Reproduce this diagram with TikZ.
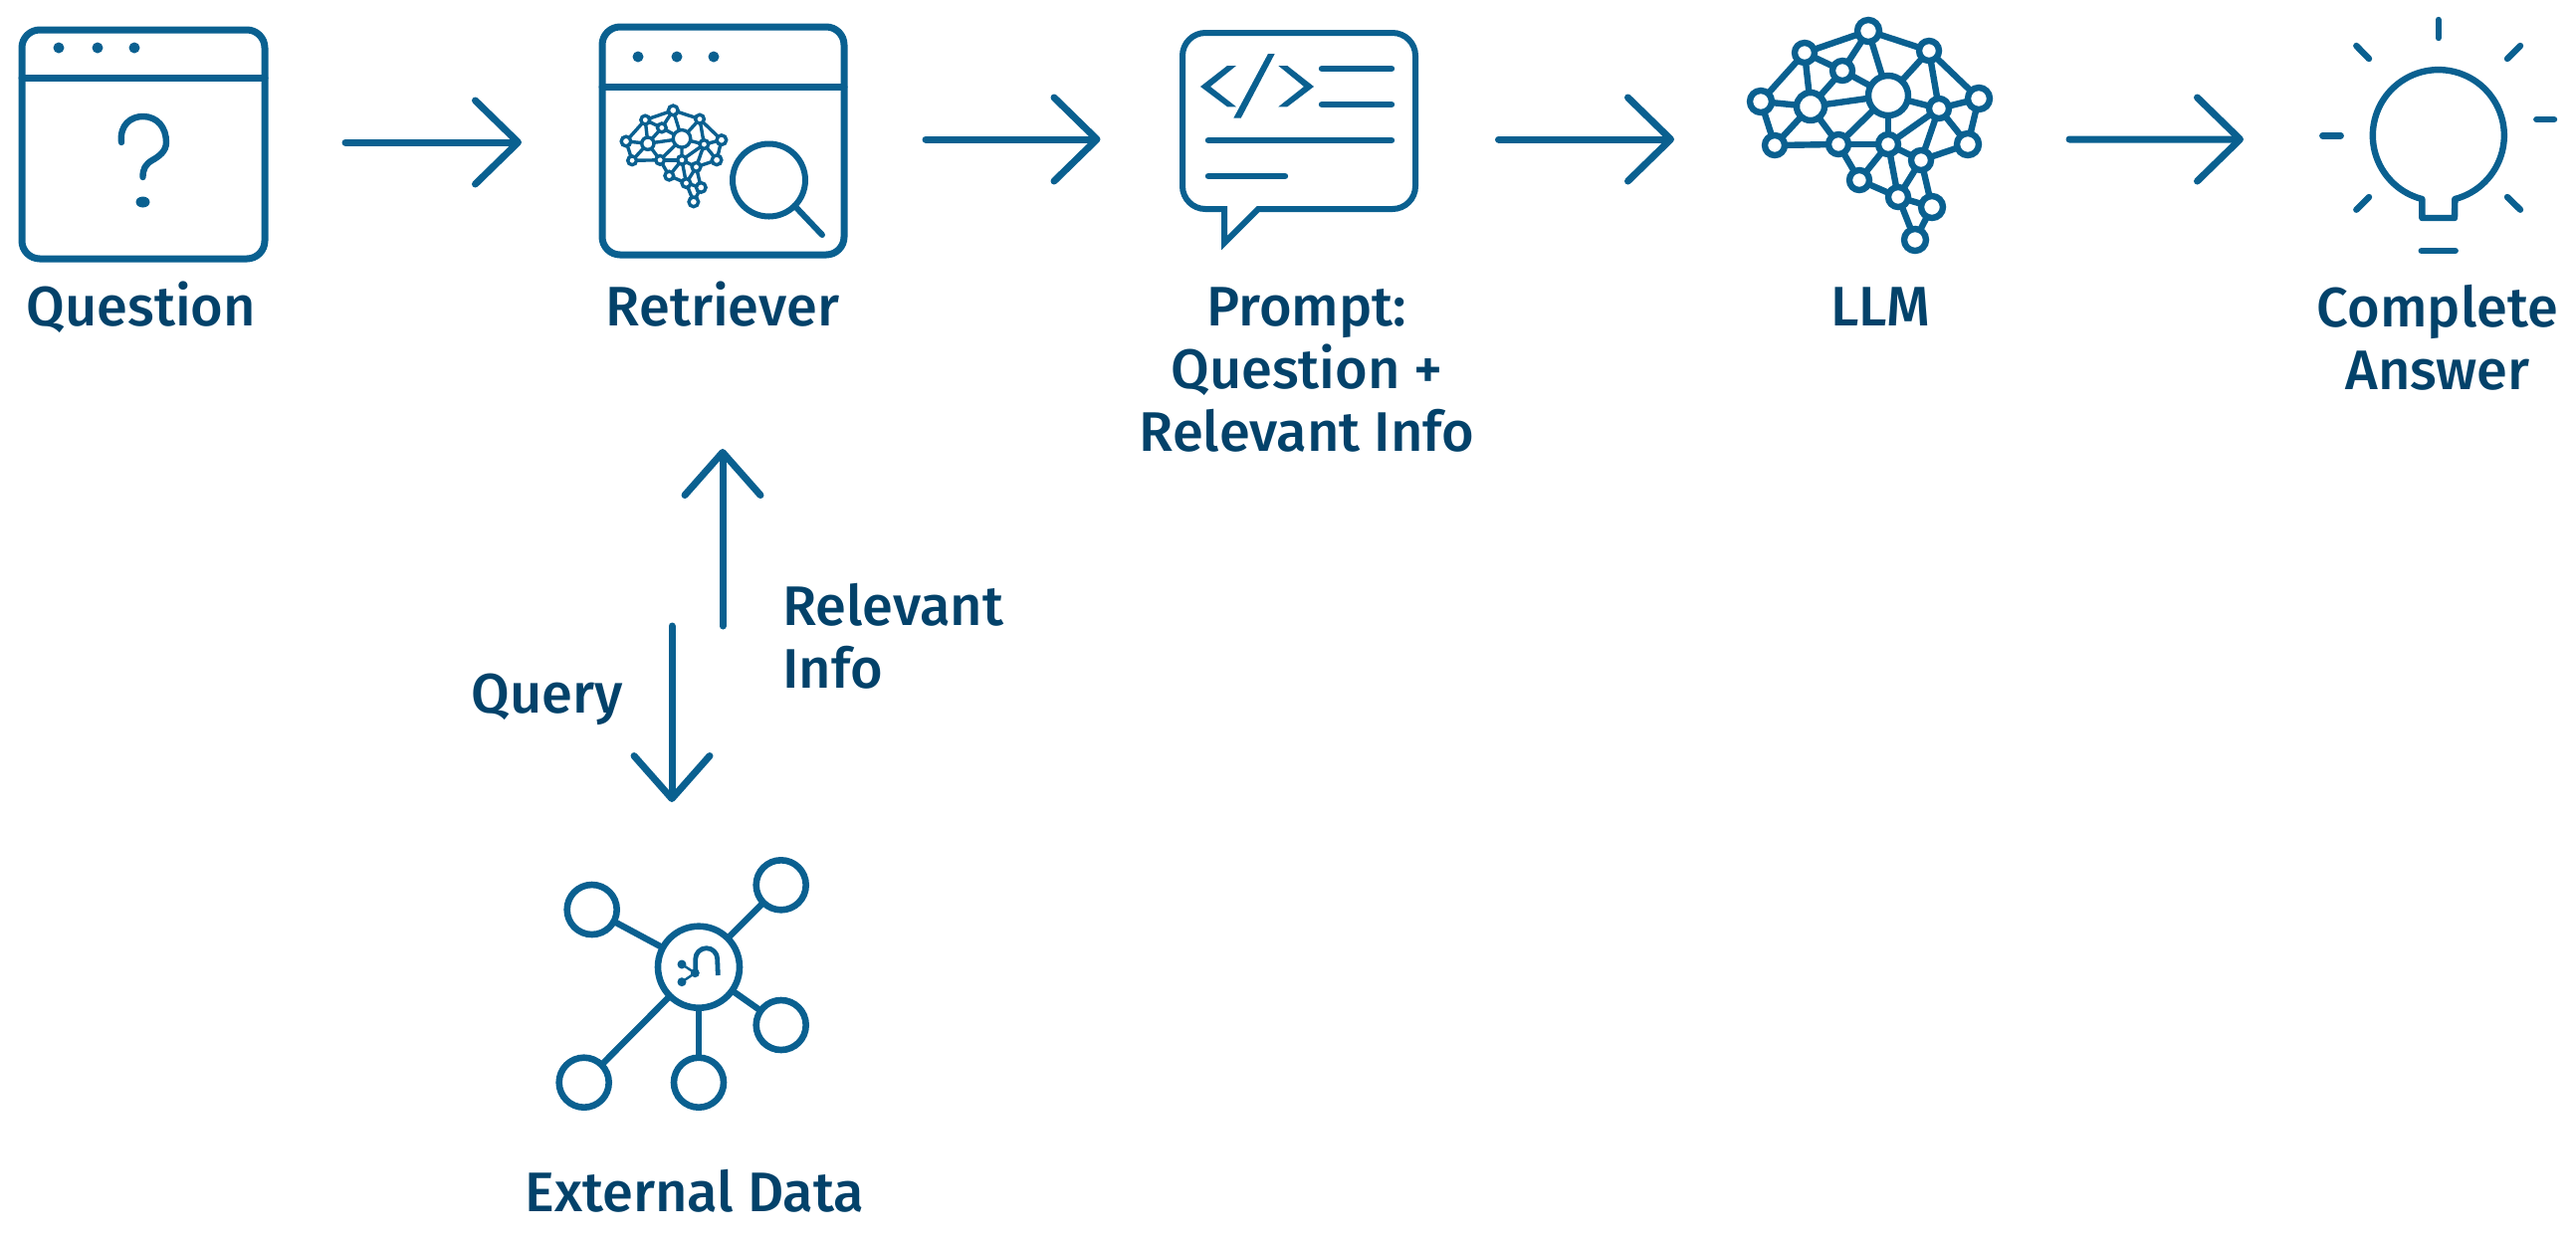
\documentclass[tikz,border=0pt]{standalone}
\usepackage{fontspec}
\setmainfont{Fira Sans}[UprightFont=* Medium]
\usepackage{xcolor}
\usetikzlibrary{positioning, arrows.meta}
\definecolor{iconblue}{HTML}{0A6090}
\definecolor{labelnavy}{HTML}{03426A}

% one brain: prefix, x, y, scale, line width
\newcommand{\brainnet}[5]{
  \begin{scope}[shift={(#2,#3)}, scale=#4]
    \foreach \n/\px/\py/\dia in {a/49/102/22, b/63/146/20, c/93/53/20, d/131/71/20, e/99/107/28,
        f/157/31/22, g/177/96/40, h/218/51/20, i/228/109/20, j/268/99/22, k/257/145/22,
        l/127/145/20, m/177/145/20, n/210/161/20, o/148/181/20, p/187/198/20, q/221/208/22, r/204/241/22}
      \node[netnode, line width=#5, minimum size={\dia*#4*0.5pt}] (#1\n) at (\px,\py) {};
    \foreach \s/\t in {a/c, a/e, a/b, b/e, b/l, c/f, c/d, c/e, d/f, d/e, d/g, e/g, e/l, f/g, f/h,
        g/h, g/i, g/l, g/m, h/i, h/j, i/j, i/k, j/k, i/m, i/n, k/n, l/m, l/o, m/o, m/p, m/n,
        n/p, n/q, o/p, p/q, p/r, q/r}
      \draw[iconblue, line width=#5] (#1\s) -- (#1\t);
  \end{scope}
}

\begin{document}
\begin{tikzpicture}[
    x=0.5pt, y=-0.5pt,
    icon/.style={iconblue, line width=3.2pt, line cap=round, line join=round},
    window/.style={draw=iconblue, line width=3.5pt, rounded corners=9pt, inner sep=0pt},
    frame/.style={inner sep=0pt, outer sep=0pt},
    netnode/.style={circle, draw=iconblue, inner sep=0pt, outer sep=0pt},
    hubnode/.style={circle, draw=iconblue, line width=3.3pt, inner sep=0pt, outer sep=0pt, minimum size=25pt},
    lbl/.style={font=\fontsize{28}{31.5}\selectfont, text=labelnavy, inner sep=0pt, align=center},
    arr/.style={iconblue, line width=3.5pt, line cap=round, -{Straight Barb[length=21.5pt, width=42pt, round]}},
    vertarr/.style={iconblue, line width=3.5pt, line cap=round, -{Straight Barb[length=21.5pt, width=38pt, round]}}
  ]
  \useasboundingbox (0,0) rectangle (2588,1250);

  \node[window, minimum width=122pt, minimum height=115pt] (question) at (144,145) {};
  \draw[icon, line width=3.5pt] (22,78) -- (266,78);
  \foreach \x in {59,98,135} \fill[iconblue] (\x,48) circle[radius=5.5];
  \draw[icon] (122,143) .. controls (120,125) and (132,117) .. (143.5,117)
    .. controls (158,117) and (167,128) .. (167,143)
    .. controls (167,152) and (160,157) .. (153,161)
    .. controls (146,165) and (143.5,170) .. (143.5,178);
  \fill[iconblue] (143.5,203) ellipse[x radius=7, y radius=5.5];
  \node[lbl, anchor=base] (questionlbl) at (142,327) {Question};

  \node[window, minimum width=121.5pt, minimum height=114.5pt] (retriever) at (726.5,141.5) {};
  \draw[icon, line width=3.5pt] (605,87) -- (848,87);
  \foreach \x in {641,680,717} \fill[iconblue] (\x,57) circle[radius=5.5];
  \brainnet{small}{607.5}{97.3}{0.438}{1.7pt}
  \node[circle, draw=iconblue, line width=3pt, inner sep=0pt, outer sep=0pt, minimum size=36.5pt] (lens) at (772.5,181) {};
  \coordinate (lensend) at (826,236);
  \draw[icon, line width=3pt] (lens.-45) -- (lensend);
  \node[lbl, anchor=base] (retrieverlbl) at (726,327) {Retriever};

  \node[frame, minimum width=120pt, minimum height=91.5pt] (prompt) at (1305,121.5) {};
  \draw[icon, line width=3pt, line cap=butt, line join=miter] (1230,244) -- (1230,210) [rounded corners=11.5pt] -- (1188,210) -- (1188,33)
    -- (1422,33) -- (1422,210) [sharp corners] -- (1264,210) -- cycle;
  \fill[iconblue] (1233,66) -- (1242,66) -- (1216,87) -- (1242,107.3) -- (1233,107.3) -- (1206,87) -- cycle;
  \fill[iconblue] (1274,54) -- (1280.7,54) -- (1246.7,118.7) -- (1239.3,118.7) -- cycle;
  \fill[iconblue] (1284.3,66) -- (1293.3,66) -- (1320,87) -- (1293.3,107.3) -- (1284.3,107.3) -- (1310,87) -- cycle;
  \draw[icon] (1328,69) -- (1398,69);
  \draw[icon] (1328,105) -- (1398,105);
  \draw[icon] (1214,141) -- (1398,141);
  \draw[icon] (1214,177) -- (1291,177);
  \node[lbl, anchor=north] (promptlbl) at (1313,288) {Prompt:\\Question +\\Relevant Info};

  \brainnet{llm}{1720}{0}{1}{3.2pt}
  \node[lbl, anchor=base] (llmlbl) at (1889,327) {LLM};

  \node[circle, frame, minimum size=69pt] (bulb) at (2449.7,136.7) {};
  \draw[icon] (2466,219) -- (2433.3,219) -- (2433.3,200) arc[start angle=104.5, end angle=435.5, radius=66] -- cycle;
  \foreach \ax/\ay/\bx/\by in {2449.7/20/2449.7/38, 2367.3/46/2380/59, 2532/46/2519/59, 2548.3/120/2566/120,
      2333.3/136.3/2351.7/136.3, 2380/198/2367.3/210.7, 2519/198/2532/210.7, 2432.7/252/2466.7/252}
    \draw[icon] (\ax,\ay) -- (\bx,\by);
  \node[lbl, anchor=north] (answerlbl) at (2449,286) {Complete\\Answer};

  \node[hubnode, minimum size=41pt] (hub) at (702,971.7) {};
  \node[hubnode] (sourcea) at (594.7,914) {};
  \node[hubnode] (sourceb) at (784.7,889.3) {};
  \node[hubnode] (sourcec) at (784.7,1030) {};
  \node[hubnode] (sourced) at (586.7,1087.7) {};
  \node[hubnode] (sourcee) at (702,1087.7) {};
  \foreach \s in {a,b,c,d,e} \draw[icon, line cap=butt] (hub) -- (source\s);
  \draw[icon, line width=2.4pt, line cap=butt] (698.7,975) -- (698.7,963.7) arc[start angle=180, end angle=360, radius=11] -- (721.3,980);
  \foreach \dx/\dy in {685/969, 685/986.7} {
    \fill[iconblue] (\dx,\dy) circle[radius=4.5];
    \draw[iconblue, line width=1.2pt] (\dx,\dy) -- (698.3,977.7);
  }
  \fill[iconblue] (698.3,977.7) circle[radius=4.5];
  \node[lbl, anchor=base] (datalbl) at (698,1217) {External Data};

  \draw[arr] ([xshift=38.75pt, yshift=1pt]question.east) -- ([xshift=-38.75pt, yshift=-0.75pt]retriever.west);
  \draw[arr] ([xshift=39.25pt, yshift=0.75pt]retriever.east) -- ([xshift=-39.75pt, yshift=-9.25pt]prompt.west);
  \draw[arr] ([xshift=40.25pt, yshift=-9.25pt]prompt.east) -- ([xshift=-38pt, yshift=-19pt]llma.west);
  \draw[arr] ([xshift=40pt, yshift=-20.5pt]llmj.east) -- ([xshift=-63.35pt, yshift=-1.65pt]bulb.west);

  \draw[vertarr] ([shift={(12pt,150.85pt)}]hub.north) -- ([shift={(-0.25pt,-95.75pt)}]retriever.south);
  \draw[vertarr] ([shift={(-25.75pt,-184.75pt)}]retriever.south) -- ([shift={(-13.5pt,62.35pt)}]hub.north);

  \node[lbl, anchor=north west, align=left] (infolbl) at (786,586) {Relevant\\Info};
  \node[lbl, anchor=base east] (querylbl) at (626,716) {Query};
\end{tikzpicture}
\end{document}
